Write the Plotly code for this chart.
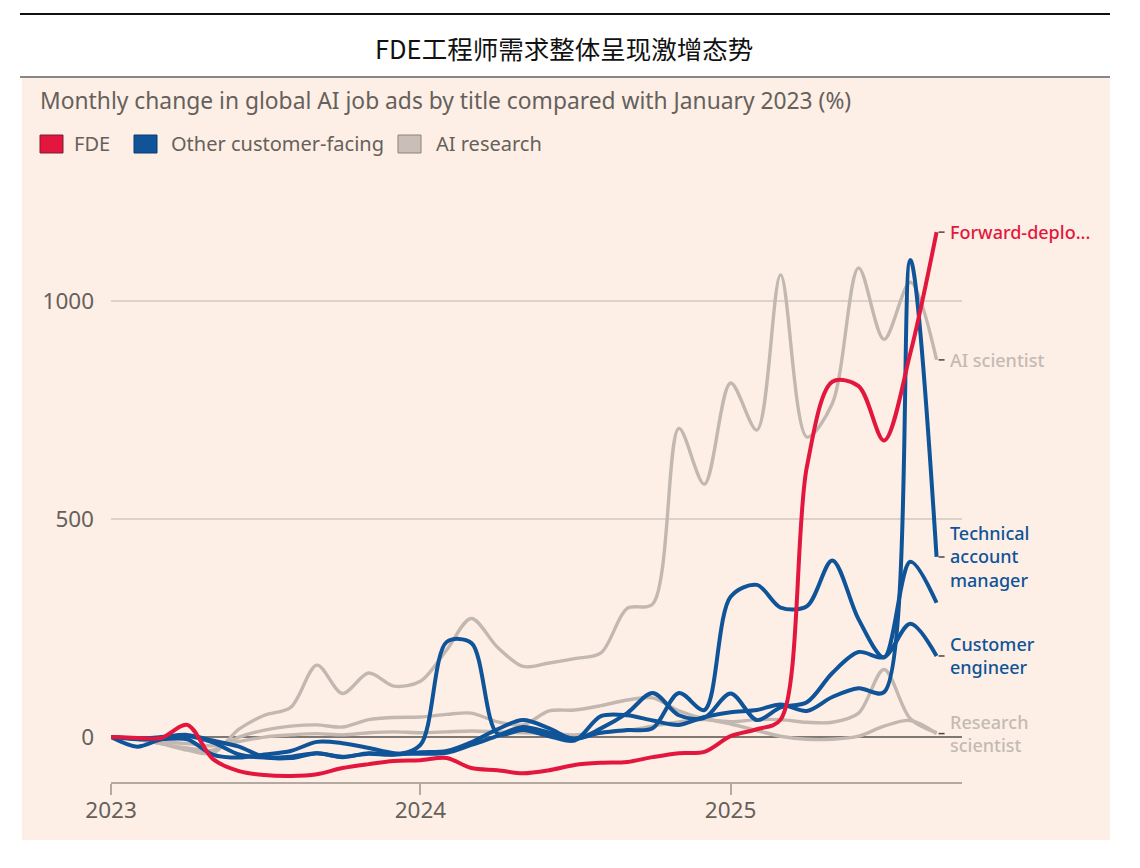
import plotly.graph_objects as go
import pandas as pd

# ---------------- data (monthly, Jan 2023 .. Sep 2025) ----------------
months = pd.date_range("2023-01-01", periods=33, freq="MS").strftime("%Y-%m-%d").tolist()

fde = [0, -2, -2, 28, -50, -78, -87, -89, -85, -71, -62, -55, -53, -48, -71, -76,
       -83, -76, -64, -59, -57, -46, -37, -34, 2, 18, 40, 620, 815, 805, 680, 880, 1158]

technical_account_manager = [0, -22, -5, 2, -12, -40, -47, -45, -37, -45, -38, -40, -18, 218, 216, 8,
                             16, 2, -8, 48, 50, 38, 28, 46, 57, 62, 75, 60, 92, 112, 103, 1094, 413]

customer_engineer = [0, -3, 0, 5, -8, -22, -46, -48, -37, -46, -37, -40, -35, -32, -12, 18,
                     39, 20, -5, 20, 55, 101, 50, 44, 100, 39, 68, 80, 147, 195, 183, 260, 186]

other_customer_facing = [0, -5, -5, -5, -40, -47, -40, -32, -11, -14, -25, -37, -38, -36, -18, 3,
                         23, 10, -3, 10, 16, 20, 101, 62, 322, 349, 297, 300, 405, 270, 183, 402, 308]

ai_scientist = [0, -5, -15, -30, -37, 18, 50, 68, 165, 100, 147, 117, 128, 200, 272, 206,
                162, 170, 180, 193, 295, 305, 708, 580, 812, 704, 1060, 688, 765, 1076, 912, 1043, 865]

ai_research_other = [0, -5, -15, -25, -30, 0, 16, 25, 28, 23, 40, 45, 46, 52, 55, 35,
                     28, 60, 62, 72, 85, 90, 60, 42, 35, 40, 40, 34, 34, 55, 155, 42, 10]

research_scientist = [0, -3, -10, -15, -20, -10, 0, 5, 8, 5, 10, 12, 10, 12, 14, 12,
                      10, 8, 5, 10, 15, 25, 35, 40, 30, 15, 2, -5, -5, 2, 25, 38, 8]

tick_vals_y = [0, 500, 1000]
tick_vals_x = ["2023-01-01", "2024-01-01", "2025-01-01"]
tick_text_x = ["2023", "2024", "2025"]

title_text = "FDE工程师需求整体呈现激增态势"
subtitle_text = "Monthly change in global AI job ads by title compared with January 2023 (%)"
legend_items = ["FDE", "Other customer-facing", "AI research"]

# ---------------- styles ----------------
RED = "#E3173E"
BLUE = "#0F5499"
GRAY = "#C2B8B1"
GRAY_LABEL = "#C4BAB3"
TEXT = "#66605C"
PEACH = "#FDEFE5"
FONT = "Noto Sans"

W, H = 1140, 868
L, R, T, B = 111, 178, 192, 86
PW = W - L - R
PH = H - T - B


def px(x):
    return (x - L) / PW


def py(y):
    return (H - B - y) / PH


fig = go.Figure()

SM = 0.9
gray_series = [ai_research_other, research_scientist, ai_scientist]
for s in gray_series:
    fig.add_trace(go.Scatter(x=months, y=s, mode="lines",
                             line=dict(color=GRAY, width=3.4, shape="spline", smoothing=SM),
                             hoverinfo="skip", showlegend=False))

blue_series = [other_customer_facing, customer_engineer, technical_account_manager]
for s in blue_series:
    fig.add_trace(go.Scatter(x=months, y=s, mode="lines",
                             line=dict(color=BLUE, width=4, shape="spline", smoothing=SM),
                             hoverinfo="skip", showlegend=False))

fig.add_trace(go.Scatter(x=months, y=fde, mode="lines",
                         line=dict(color=RED, width=4, shape="spline", smoothing=SM),
                         hoverinfo="skip", showlegend=False))

shapes = []
annotations = []

# page decoration
shapes.append(dict(type="rect", xref="paper", yref="paper", x0=px(22), x1=px(1110),
                   y0=py(840), y1=py(78), fillcolor=PEACH, line=dict(width=0), layer="below"))
shapes.append(dict(type="line", xref="paper", yref="paper", x0=px(20), x1=px(1110),
                   y0=py(14), y1=py(14), line=dict(color="#111111", width=2.2)))
shapes.append(dict(type="line", xref="paper", yref="paper", x0=px(20), x1=px(1110),
                   y0=py(77), y1=py(77), line=dict(color="#111111", width=1.2)))

annotations.append(dict(text=title_text, xref="paper", yref="paper", x=px(564), y=py(47),
                        xanchor="center", yanchor="middle", showarrow=False,
                        font=dict(family="Noto Sans CJK SC", size=25.5, color="#111111")))
annotations.append(dict(text=subtitle_text, xref="paper", yref="paper", x=px(38), y=py(100),
                        xanchor="left", yanchor="middle", showarrow=False,
                        font=dict(family=FONT, size=22.8, color=TEXT)))

# legend
legend_colors = [RED, BLUE, "#C9BFB8"]
legend_borders = ["#7a2030", "#0b3a6b", "#8b837e"]
legend_sq_x = [40, 134, 398]
legend_txt_x = [72, 169, 434]
for name, col, bcol, lx, tx in zip(legend_items, legend_colors, legend_borders, legend_sq_x, legend_txt_x):
    shapes.append(dict(type="rect", xref="paper", yref="paper", x0=px(lx), x1=px(lx + 23),
                       y0=py(153), y1=py(135), fillcolor=col, line=dict(color=bcol, width=1)))
    annotations.append(dict(text=name, xref="paper", yref="paper", x=px(tx), y=py(144),
                            xanchor="left", yanchor="middle", showarrow=False,
                            font=dict(family=FONT, size=20, color=TEXT)))

# end labels
end_labels = [
    (fde, "Forward-deplo...", RED),
    (ai_scientist, "AI scientist", GRAY_LABEL),
    (technical_account_manager, "Technical<br>account<br>manager", BLUE),
    (customer_engineer, "Customer<br>engineer", BLUE),
    (research_scientist, "Research<br>scientist", GRAY_LABEL),
]
for s, txt, col in end_labels:
    shapes.append(dict(type="line", xref="x", yref="y", xsizemode="pixel", xanchor=months[-1],
                       x0=2, x1=8, y0=s[-1], y1=s[-1], line=dict(color="#4a4542", width=1.5)))
    annotations.append(dict(text=txt, xref="x", yref="y", x=months[-1], y=s[-1],
                            xanchor="left", yanchor="middle", xshift=11,
                            showarrow=False, align="left",
                            font=dict(family=FONT, size=18, color=col, weight=500)))

fig.update_layout(
    width=W, height=H, autosize=False,
    margin=dict(l=L, r=R, t=T, b=B, pad=0),
    paper_bgcolor="white", plot_bgcolor="rgba(0,0,0,0)",
    shapes=shapes, annotations=annotations,
    showlegend=False,
    font=dict(family=FONT, color=TEXT),
)
fig.update_xaxes(type="date", range=["2023-01-01", "2025-10-01"],
                 tickvals=tick_vals_x, ticktext=tick_text_x,
                 showgrid=False, zeroline=False,
                 showline=True, linecolor="#B3A9A1", linewidth=2,
                 ticks="outside", ticklen=11, tickwidth=1.5, tickcolor="#B3A9A1",
                 tickfont=dict(family=FONT, size=22.5, color=TEXT), ticklabelstandoff=-4)
fig.update_yaxes(range=[-103, 1250], tickvals=tick_vals_y,
                 showgrid=True, gridcolor="#DCD2C9", gridwidth=1.5,
                 zeroline=True, zerolinecolor="#7E7772", zerolinewidth=2,
                 showline=False, ticks="",
                 tickfont=dict(family=FONT, size=22.5, color=TEXT), ticklabelstandoff=16)

fig.write_html("out.html", config={"displayModeBar": False},
               post_script="document.body.style.margin='0';")
